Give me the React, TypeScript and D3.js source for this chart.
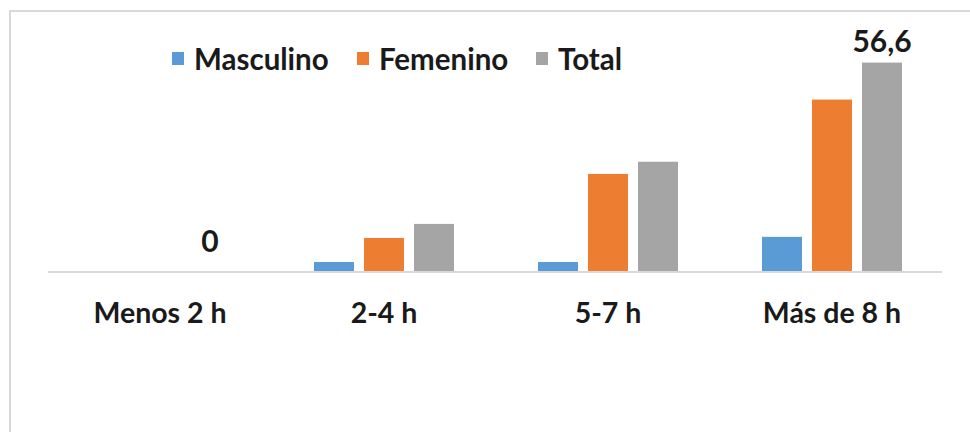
import * as d3 from 'd3';
import React, { ReactElement, useEffect, useRef } from 'react';

const WIDTH = 970;
const HEIGHT = 432;

const categories = ['Menos 2 h', '2-4 h', '5-7 h', 'Más de 8 h'];
const seriesNames = ['Masculino', 'Femenino', 'Total'];
const seriesColors = ['#5b9bd5', '#ed7d31', '#a5a5a5'];

const masculino = [0, 2.7, 2.7, 9.5];
const femenino = [0, 9.2, 26.5, 46.6];
const total = [0, 13.0, 29.8, 56.6];

// which bars carry a data label: [series index, category index]
const labelled = [
  [2, 0],
  [2, 3],
];

const FONT = 'Lato, "Open Sans", sans-serif';
const TEXT = '#1a1a1a';

const App = (): ReactElement => {
  const ref = useRef(null);

  useEffect(() => {
    const root = d3.select(ref.current);
    root.selectAll('*').remove();

    const svg = root
      .append('svg')
      .attr('width', WIDTH)
      .attr('height', HEIGHT)
      .style('display', 'block');

    svg.append('rect').attr('width', WIDTH).attr('height', HEIGHT).attr('fill', '#fff');

    // outer frame of the chart area
    svg
      .append('path')
      .attr('d', `M10,${HEIGHT} L10,11 L${WIDTH},11`)
      .attr('fill', 'none')
      .attr('stroke', '#d9d9d9')
      .attr('stroke-width', 2);

    const values = [masculino, femenino, total];

    const x0 = d3.scaleBand().domain(categories).range([48, 944]).padding(0);
    const x1 = d3
      .scaleBand()
      .domain(seriesNames)
      .range([0, x0.bandwidth()])
      .paddingInner(0.2)
      .paddingOuter(0.84);
    const y = d3.scaleLinear().domain([0, 60]).range([272, 50]);

    const groups = svg
      .selectAll('g.cat')
      .data(categories)
      .enter()
      .append('g')
      .attr('class', 'cat')
      .attr('transform', (d) => `translate(${x0(d)},0)`);

    groups
      .selectAll('rect')
      .data((_, i) => seriesNames.map((s, j) => ({ s, j, v: values[j][i] })))
      .enter()
      .append('rect')
      .attr('x', (d) => x1(d.s))
      .attr('width', x1.bandwidth())
      .attr('y', (d) => y(d.v))
      .attr('height', (d) => y(0) - y(d.v))
      .attr('fill', (d) => seriesColors[d.j]);

    // baseline
    svg
      .append('line')
      .attr('x1', 48)
      .attr('x2', 942)
      .attr('y1', y(0))
      .attr('y2', y(0))
      .attr('stroke', '#d9d9d9')
      .attr('stroke-width', 2);

    // category labels
    svg
      .selectAll('text.cat')
      .data(categories)
      .enter()
      .append('text')
      .attr('class', 'cat')
      .attr('x', (d) => x0(d) + x0.bandwidth() / 2)
      .attr('y', 323)
      .attr('text-anchor', 'middle')
      .attr('font-family', FONT)
      .attr('font-weight', 700)
      .attr('font-size', 28.5)
      .attr('fill', TEXT)
      .text((d) => d);

    // data labels (Excel lifts the zero label a bit higher)
    svg
      .selectAll('text.val')
      .data(labelled)
      .enter()
      .append('text')
      .attr('class', 'val')
      .attr('x', ([s, c]) => x0(categories[c]) + x1(seriesNames[s]) + x1.bandwidth() / 2)
      .attr('y', ([s, c]) => y(values[s][c]) - (values[s][c] === 0 ? 20 : 11))
      .attr('text-anchor', 'middle')
      .attr('font-family', FONT)
      .attr('font-weight', 700)
      .attr('font-size', 30)
      .attr('fill', TEXT)
      .text(([s, c]) => d3.format('.1~f')(values[s][c]).replace('.', ','));

    // legend
    const legendX = [172, 357, 536];
    const legend = svg
      .selectAll('g.leg')
      .data(seriesNames)
      .enter()
      .append('g')
      .attr('class', 'leg')
      .attr('transform', (_, i) => `translate(${legendX[i]},52)`);
    legend
      .append('rect')
      .attr('width', 12)
      .attr('height', 13)
      .attr('fill', (_, i) => seriesColors[i]);
    legend
      .append('text')
      .attr('x', 22)
      .attr('y', 18)
      .attr('font-family', FONT)
      .attr('font-weight', 700)
      .attr('font-size', 29.5)
      .attr('fill', TEXT)
      .text((d) => d);

    return () => {
      root.selectAll('*').remove();
    };
  }, []);

  return <div ref={ref} style={{ position: 'absolute', left: 0, top: 0 }}></div>;
};

export default App;
